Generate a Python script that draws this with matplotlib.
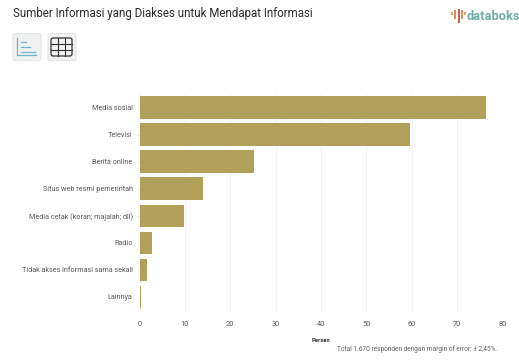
# Sumber informasi: bar horizontal dengan header ala databoks
import matplotlib
matplotlib.use('Agg')
from matplotlib import pyplot as plt
from matplotlib.patches import FancyBboxPatch, Rectangle

W, H = 519, 363

categories = ['Media sosial', 'Televisi', 'Berita online', 'Situs web resmi pemerintah',
              'Media cetak (koran; majalah; dll)', 'Radio',
              'Tidak akses informasi sama sekali', 'Lainnya']
values = [76.3, 59.7, 25.3, 14.0, 9.8, 2.7, 1.7, 0.4]
xticks = [0, 10, 20, 30, 40, 50, 60, 70, 80]

BAR = '#b0a05a'
GRID = '#f5f4ef'
TEXT = '#5a5a5a'

plt.rcParams['font.family'] = ['Roboto', 'DejaVu Sans']

fig = plt.figure(figsize=(W / 100, H / 100), dpi=100)

# kanvas dalam piksel untuk header dan ikon
bg = fig.add_axes([0, 0, 1, 1])
bg.set_xlim(0, W)
bg.set_ylim(H, 0)
bg.axis('off')

bg.text(13, 14, 'Sumber Informasi yang Diakses untuk Mendapat Informasi',
        fontsize=8.3, color='#2b2b2b', va='center', ha='left')

# tombol ikon
for x0 in (13, 48):
    bg.add_patch(FancyBboxPatch((x0, 33.5), 28, 27, boxstyle='round,pad=0,rounding_size=2',
                                fc='#f0f1f1', ec='#e6e6e6', lw=0.8))

blue = '#6fb2cf'
bg.plot([17, 17, 36], [38, 55, 55], color=blue, lw=0.9)
for y, x1 in ((42, 26), (47, 30), (52, 35)):
    bg.plot([21, x1], [y, y], color=blue, lw=0.9)

dark = '#333333'
bg.add_patch(FancyBboxPatch((51, 38), 21, 18, boxstyle='round,pad=0,rounding_size=2',
                            fc='none', ec=dark, lw=0.9))
for x in (58, 65):
    bg.plot([x, x], [38, 56], color=dark, lw=0.8)
for y in (44, 50):
    bg.plot([51, 72], [y, y], color=dark, lw=0.8)

# logo databoks
logo_bars = [(452, 12, 15, '#e0a56a'), (455, 10, 19, '#dd8f5f'), (458.5, 9, 23, '#cf5f4f'),
             (462, 10, 19, '#dd8f5f'), (465, 12, 15, '#e0a56a')]
for x, y0, y1, c in logo_bars:
    bg.add_patch(Rectangle((x - 1, y0), 2, y1 - y0, fc=c, ec='none'))
bg.text(467, 17, 'databoks', fontsize=9.3, fontweight='bold', color='#6fb0a8',
        va='center', ha='left')

bg.text(321, 340.5, 'Persen', fontsize=4.2, fontweight='bold', color='#333333',
        va='center', ha='center')
bg.text(337, 349.5, 'Total 1.670 responden dengan margin of error: ± 2,45%.',
        fontsize=4.7, color='#666666', va='center', ha='left')

# area grafik: 0 di px 139.5, 80 di px 502.5
ax = fig.add_axes([139.5 / W, 1 - 312 / H, (502.5 - 139.5) / W, (312 - 93.5) / H])
ax.patch.set_alpha(0)
y = list(range(len(categories)))
ax.barh(y, values, height=0.82, color=BAR, zorder=3)
ax.set_xlim(0, 80)
ax.set_ylim(len(categories) - 0.43, -0.52)
ax.set_yticks(y)
ax.set_yticklabels(categories)
ax.set_xticks(xticks)
ax.xaxis.grid(True, color=GRID, lw=0.7, zorder=0)
ax.tick_params(axis='y', length=2.5, width=0.5, color='#e4e4e4', pad=2.5,
               labelsize=5.25, labelcolor=TEXT)
ax.tick_params(axis='x', length=0, pad=6.5, labelsize=5.3, labelcolor=TEXT)
for s in ('top', 'right', 'bottom'):
    ax.spines[s].set_visible(False)
ax.spines['left'].set_color('#ecece6')
ax.spines['left'].set_linewidth(0.5)
ax.spines['left'].set_zorder(1)

fig.savefig('out.png', dpi=100)
